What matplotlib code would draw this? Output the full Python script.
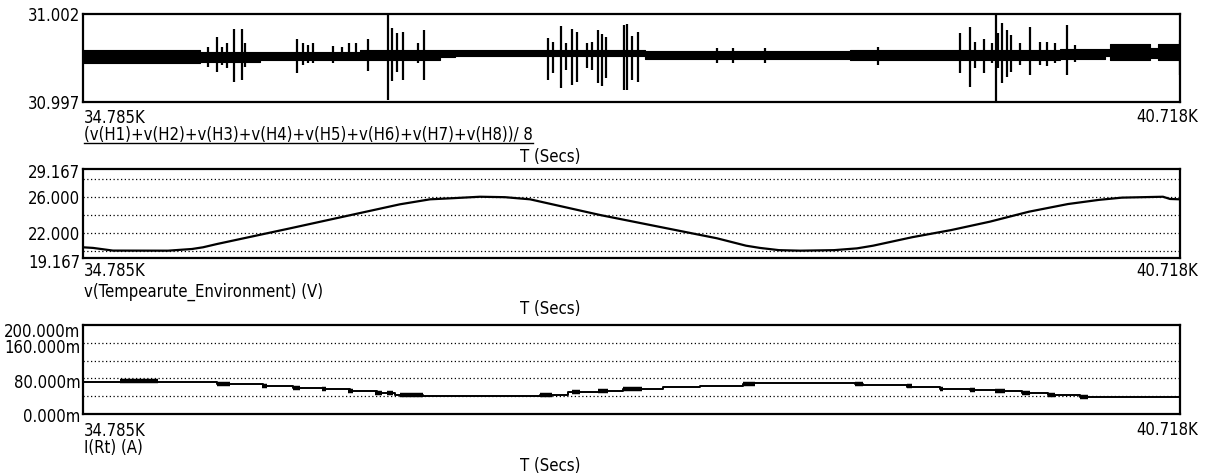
import matplotlib
matplotlib.use("Agg")
import matplotlib.pyplot as plt
import matplotlib.transforms as mtransforms
from matplotlib.lines import Line2D

plt.rcParams['font.family'] = ['DejaVu Sans']
plt.rcParams['font.stretch'] = 'condensed'
plt.rcParams['font.size'] = 12

T_START = 34785
T_END = 40718

# ---- top trace: (v(H1)+...+v(H8))/8, band of the noise floor (V)
band_t = [34785, 35418, 35742, 36283, 36716, 36797, 37257, 37824, 38933,
          39474, 40069, 40312, 40339, 40529, 40556, 40599, 40718]
band_hi = [30.99994, 30.99986, 30.99984, 30.99993, 30.99998, 30.99993, 30.99993, 30.99988, 30.99993,
           30.99993, 31.00001, 31.00001, 31.00032, 31.00032, 31.00007, 31.00032, 31.00032]
band_lo = [30.99920, 30.99929, 30.99939, 30.99941, 30.99953, 30.99964, 30.99964, 30.99943, 30.99941,
           30.99941, 30.99944, 30.99961, 30.99936, 30.99936, 30.99950, 30.99936, 30.99936]

# bursts sticking out of the band (time, max, min)
spike_t = [35461, 35510, 35537, 35564, 35602, 35645, 35661, 35942, 35975, 36002,
           36029, 36137, 36186, 36224, 36262, 36326, 36435, 36456, 36483, 36516,
           36597, 36629, 37300, 37327, 37370, 37397, 37430, 37457, 37511, 37538,
           37570, 37592, 37614, 37711, 37727, 37754, 37787, 38214, 38300, 38474,
           39085, 39528, 39582, 39609, 39658, 39701, 39723, 39734, 39755, 39782,
           39804, 39853, 39907, 39961, 39999, 40042, 40107, 40150, 40718]
spike_hi = [31.00014, 31.00071, 31.00014, 31.00034, 31.00113, 31.00113, 31.00034, 31.00056, 31.00034, 31.00024,
            31.00034, 31.00018, 31.00011, 31.00034, 31.00034, 31.00056, 31.00200, 31.00120, 31.00092, 31.00099,
            31.00034, 31.00109, 31.00062, 31.00043, 31.00132, 31.00034, 31.00113, 31.00099, 31.00034, 31.00043,
            31.00109, 31.00086, 31.00071, 31.00138, 31.00143, 31.00075, 31.00099, 31.00005, 31.00005, 31.00005,
            31.00014, 31.00090, 31.00124, 31.00043, 31.00056, 31.00034, 31.00200, 31.00090, 31.00151, 31.00109,
            31.00081, 31.00034, 31.00124, 31.00043, 31.00041, 31.00034, 31.00138, 31.00024, 31.00052]
spike_lo = [30.99901, 30.99872, 30.99910, 30.99891, 30.99815, 30.99825, 30.99901, 30.99866, 30.99910, 30.99922,
            30.99922, 30.99923, 30.99939, 30.99939, 30.99939, 30.99878, 30.99711, 30.99821, 30.99872, 30.99825,
            30.99920, 30.99825, 30.99825, 30.99863, 30.99780, 30.99882, 30.99797, 30.99814, 30.99891, 30.99882,
            30.99806, 30.99791, 30.99836, 30.99768, 30.99768, 30.99825, 30.99815, 30.99920, 30.99920, 30.99920,
            30.99910, 30.99863, 30.99787, 30.99891, 30.99863, 30.99920, 30.99700, 30.99891, 30.99806, 30.99844,
            30.99872, 30.99910, 30.99853, 30.99910, 30.99905, 30.99920, 30.99853, 30.99929, 30.99853]

# ---- middle trace: v(Tempearute_Environment)
temp_t = [34785, 34839, 34947, 35245, 35375, 35434, 35510, 35905, 36499, 36662,
          36797, 36932, 37067, 37203, 37581, 37895, 38214, 38371, 38446, 38549,
          38663, 38847, 38971, 39058, 39269, 39479, 39690, 39901, 40112, 40280,
          40404, 40626, 40664, 40718]
temp_v = [20.37, 20.30, 20.00, 19.99, 20.18, 20.37, 20.74, 22.50, 25.20, 25.76,
          25.90, 26.05, 26.00, 25.76, 24.00, 22.70, 21.38, 20.55, 20.30, 20.05,
          19.99, 20.05, 20.25, 20.55, 21.50, 22.30, 23.25, 24.37, 25.23, 25.70,
          25.95, 26.05, 25.80, 25.76]

# ---- bottom trace: I(Rt), stepped levels (A)
cur_t = [34785, 35510, 35759, 35921, 36083, 36229, 36375, 36472, 36624, 37257,
         37408, 37581, 37706, 37922, 38122, 38355, 38409, 38960, 39004, 39241,
         39420, 39582, 39728, 39863, 40004, 40177, 40718]
cur_i = [0.0715, 0.0675, 0.0630, 0.0590, 0.0555, 0.0520, 0.0480, 0.0430, 0.0405, 0.0435,
         0.0485, 0.0525, 0.0560, 0.0600, 0.0635, 0.0680, 0.0703, 0.0680, 0.0660, 0.0614,
         0.0570, 0.0540, 0.0517, 0.0472, 0.0420, 0.0375, 0.0375]
# short noisy stretches at the level changes
burst_t0 = [34985, 35510, 35753, 35921, 36078, 36218, 36364, 36429, 36499, 37257,
            37430, 37570, 37706, 38355, 38960, 39241, 39420, 39582, 39717, 39863,
            40004, 40177]
burst_t1 = [35191, 35580, 35780, 35959, 36099, 36245, 36402, 36462, 36624, 37322,
            37473, 37624, 37808, 38419, 39004, 39269, 39436, 39609, 39771, 39907,
            40042, 40220]
burst_i = [0.0745, 0.0675, 0.0630, 0.0590, 0.0555, 0.0520, 0.0480, 0.0480, 0.0427, 0.0420,
           0.0488, 0.0524, 0.0560, 0.0685, 0.0680, 0.0635, 0.0570, 0.0540, 0.0517, 0.0472,
           0.0420, 0.0375]

W, H = 1208, 475
fig = plt.figure(figsize=(W / 100, H / 100), dpi=100)


def panel(top_px, bot_px):
    ax = fig.add_axes([83 / W, 1 - bot_px / H, 1097 / W, (bot_px - top_px) / H])
    ax.set_xlim(T_START, T_END)
    ax.set_xticks([])
    ax.tick_params(axis='y', length=0, pad=2, labelsize=12)
    for s in ax.spines.values():
        s.set_linewidth(1.6)
    return ax


def nudge_labels(ax, shifts_px):
    # move y tick labels down by a few pixels, like the reference
    for lab, dy in zip(ax.get_yticklabels(), shifts_px):
        off = mtransforms.ScaledTranslation(0, -dy / 100, fig.dpi_scale_trans)
        lab.set_transform(lab.get_transform() + off)


def fig_text(x_px, y_px, s, **kw):
    return fig.text(x_px / W, 1 - y_px / H, s, va='baseline', fontsize=12, **kw)


def dotted_grid(ax, levels):
    for lv in levels:
        ax.axhline(lv, color='black', lw=0.9, ls=(0, (1, 2)), zorder=1)


# top panel
ax1 = panel(14, 102)
ax1.fill_between(band_t, band_lo, band_hi, color='black', lw=0.8, step='post')
ax1.vlines(spike_t, spike_lo, spike_hi, color='black', lw=1.6)
ax1.set_ylim(30.997, 31.002)
ax1.set_yticks([30.997, 31.002], ['30.997', '31.002'])
fig_text(84, 123, '34.785K')
fig_text(1198, 122, '40.718K', ha='right')
expr = fig_text(84, 140, '(v(H1)+v(H2)+v(H3)+v(H4)+v(H5)+v(H6)+v(H7)+v(H8))/ 8')
fig_text(520, 162, 'T (Secs)')

# middle panel
ax2 = panel(169, 258)
dotted_grid(ax2, [20, 22, 24, 26, 28])
ax2.plot(temp_t, temp_v, color='black', lw=1.6, zorder=3)
ax2.set_ylim(19.167, 29.167)
ax2.set_yticks([19.167, 22, 26, 29.167], ['19.167', '22.000', '26.000', '29.167'])
nudge_labels(ax2, [3, 0, 0, 2])
fig_text(84, 276, '34.785K')
fig_text(1198, 276, '40.718K', ha='right')
fig_text(84, 297, 'v(Tempearute_Environment) (V)')
fig_text(520, 314, 'T (Secs)')

# bottom panel
ax3 = panel(325, 414)
dotted_grid(ax3, [0.04, 0.08, 0.12, 0.16])
ax3.plot(cur_t, cur_i, color='black', lw=1.4, drawstyle='steps-post', zorder=3)
ax3.hlines(burst_i, burst_t0, burst_t1, color='black', lw=3.2, zorder=3)
ax3.set_ylim(0, 0.2)
ax3.set_yticks([0, 0.08, 0.16, 0.2], ['0.000m', '80.000m', '160.000m', '200.000m'])
nudge_labels(ax3, [1, 3, 3, 5])
fig_text(84, 436, '34.785K')
fig_text(1198, 435, '40.718K', ha='right')
fig_text(84, 453, 'I(Rt) (A)')
fig_text(520, 471, 'T (Secs)')

# underline the expression of the top trace
fig.canvas.draw()
bb = expr.get_window_extent(fig.canvas.get_renderer())
uy = 1 - 143.5 / H
fig.add_artist(Line2D([bb.x0 / W, bb.x1 / W], [uy, uy], color='black', lw=1.0,
                      transform=fig.transFigure))

fig.savefig('out.png', dpi=100)
